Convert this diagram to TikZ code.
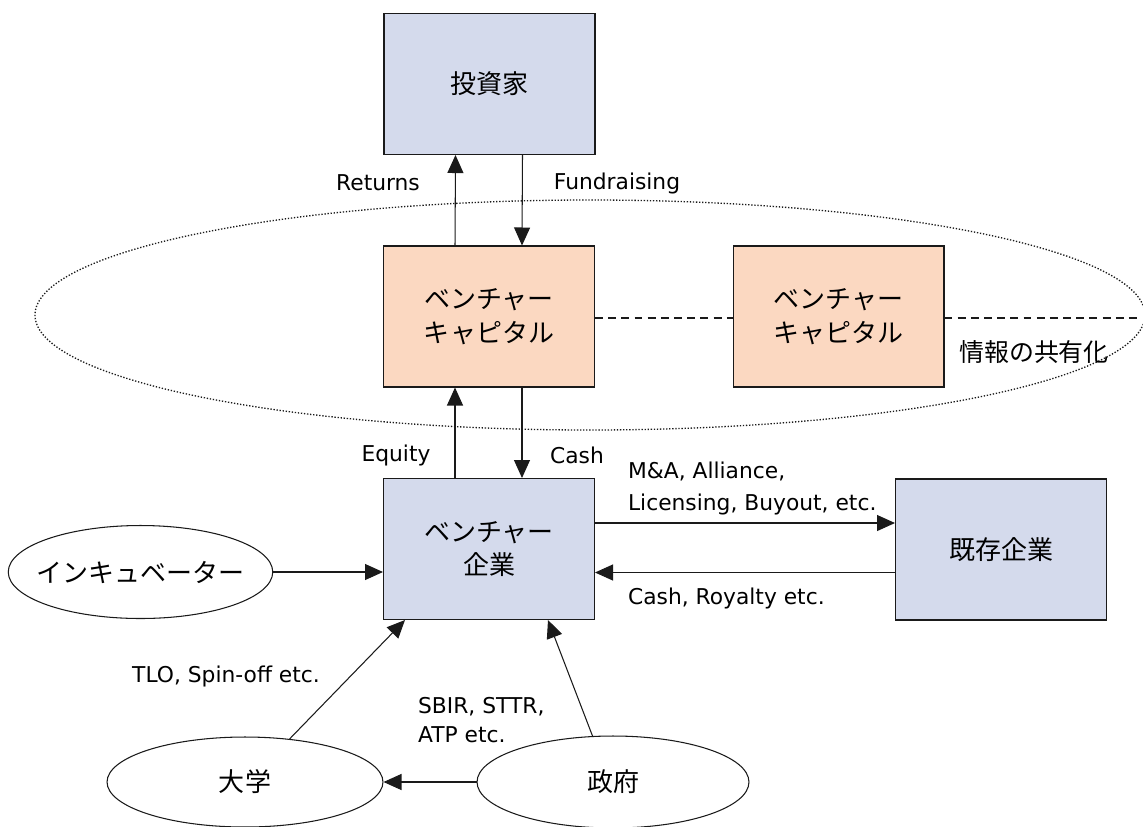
\documentclass[tikz,border=0pt]{standalone}
\usepackage{fontspec}
\setmainfont{Noto Sans CJK JP}
\newfontfamily\latinfont{DejaVu Sans}
\usepackage{tikz}
\usepackage{xcolor}
\usetikzlibrary{arrows.meta,positioning,shapes.geometric,calc}
\definecolor{ink}{HTML}{1A1A1A}
\definecolor{bluefill}{HTML}{D4DAEC}
\definecolor{peachfill}{HTML}{FBD8C1}
\tikzset{
  bluebox/.style={draw=ink,fill=bluefill,line width=0.6pt,
                  minimum width=4.22cm,minimum height=2.82cm,inner sep=0pt,
                  align=center,font=\fontsize{14.8}{19}\selectfont},
  vcbox/.style={bluebox,fill=peachfill},
  oval/.style={draw=ink,fill=white,ellipse,line width=0.6pt,inner sep=0pt,
               align=center,font=\fontsize{14.8}{19}\selectfont},
  flowlbl/.style={inner sep=1pt,align=left,font=\latinfont\fontsize{12.4}{18.2}\selectfont},
  flowarr/.style={-{Triangle[length=3.6mm,width=3.2mm]},line width=0.6pt,draw=ink},
  sharearr/.style={line width=0.6pt,dash pattern=on 4.5pt off 3pt,draw=ink}
}
\begin{document}
\begin{tikzpicture}[x=0.02cm,y=-0.02cm]
  \useasboundingbox (0,0) rectangle (1143,826);

  % dotted ring round the capital firms
  \draw[ink,line width=0.75pt,dash pattern=on 0.75pt off 1pt] (590,315) ellipse [x radius=555, y radius=115];

  \node[bluebox] (inv) at (489.5,84) {投資家};
  \node[vcbox] (vc) at (489,316.5) {ベンチャー\\キャピタル};
  \node[vcbox] (vcb) at (838.5,316.5) {ベンチャー\\キャピタル};
  \node[bluebox] (vent) at (489,549) {ベンチャー\\企業};
  \node[bluebox] (firm) at (1001,549.5) {既存企業};

  \node[oval,inner xsep=-0.21cm,minimum width=5.18cm,minimum height=1.86cm] (incub) at (140.5,572) {インキュベーター};
  \node[oval,minimum width=5.52cm,minimum height=1.8cm] (univ) at (245,782) {大学};
  \node[oval,minimum width=5.44cm,minimum height=1.84cm] (gov) at (613,782) {政府};

  \coordinate (shareend) at (1138,318);

  % money and equity flows
  \draw[flowarr] ([xshift=-0.68cm]vc.north) -- ([xshift=-0.68cm]inv.south);
  \draw[flowarr] ([xshift=0.66cm]inv.south) -- ([xshift=0.66cm]vc.north);
  \draw[flowarr] ([xshift=-0.68cm]vent.north) -- ([xshift=-0.68cm]vc.south);
  \draw[flowarr] ([xshift=0.66cm]vc.south) -- ([xshift=0.66cm]vent.north);
  \draw[flowarr] ([yshift=0.52cm]vent.east) -- ([yshift=0.52cm]vent.east -| firm.west);
  \draw[flowarr] ([yshift=-0.46cm]firm.west) -- ([yshift=-0.46cm]firm.west -| vent.east);
  \draw[flowarr] (incub.east) -- (incub.east -| vent.west);
  \draw[flowarr] (univ.44) -- ([xshift=0.44cm]vent.south west);
  \draw[flowarr] (gov.114) -- ([xshift=1.18cm]vent.south);
  \draw[flowarr] (gov.west) -- (univ.east);

  % information sharing
  \draw[sharearr] (vc.east |- 0,318) -- (vcb.west |- 0,318);
  \draw[sharearr] (vcb.east |- 0,318) -- (shareend);

  \node[flowlbl] (lret) at (378,183) {Returns};
  \node[flowlbl] (lfund) at (617,183) {Fundraising};
  \node[flowlbl] (leq) at (396,455) {Equity};
  \node[flowlbl] (lcash) at (577,455) {Cash};
  \node[flowlbl,anchor=west] (lma) at (626,488) {M\&A, Alliance,\\Licensing, Buyout, etc.};
  \node[flowlbl,anchor=west] (lroy) at (626,598) {Cash, Royalty etc.};
  \node[flowlbl] (ltlo) at (226,676) {TLO, Spin-off etc.};
  \node[flowlbl,anchor=west,font=\latinfont\fontsize{12.4}{17}\selectfont] (lsbir) at (416,720) {SBIR, STTR,\\ATP etc.};
  \node[flowlbl,font=\fontsize{14.2}{19}\selectfont] (lshare) at (1034,352) {情報の共有化};
\end{tikzpicture}
\end{document}
